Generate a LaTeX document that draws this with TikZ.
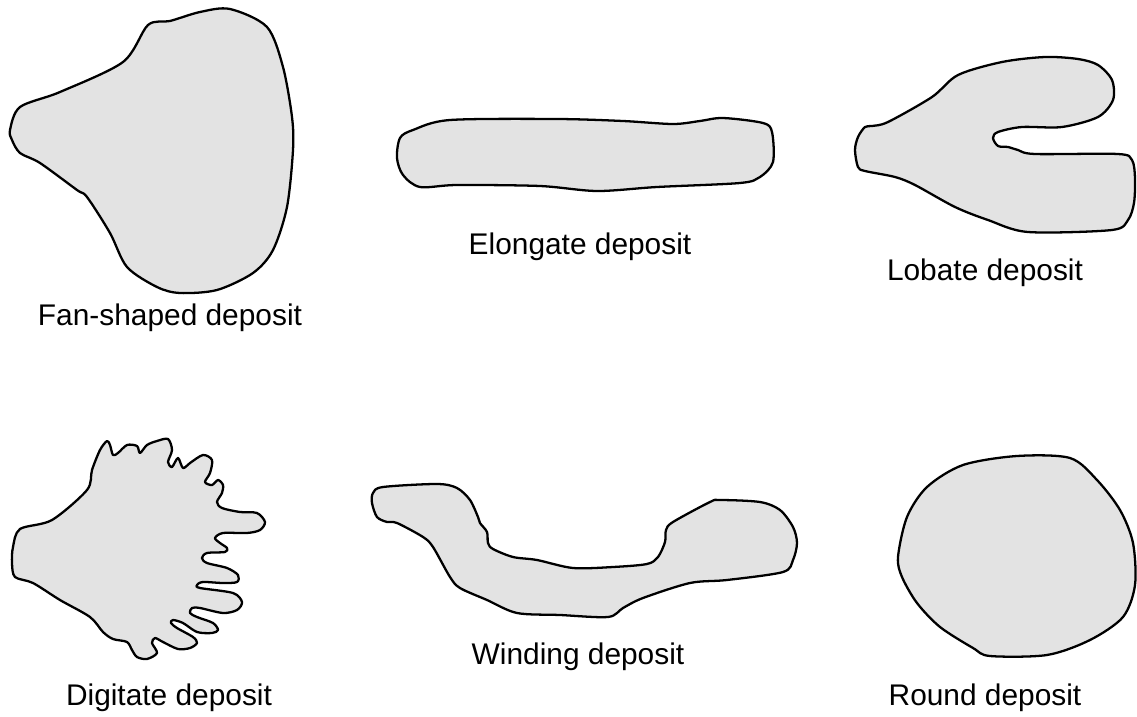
\documentclass[tikz,border=0pt]{standalone}
\usepackage{fontspec}
\setmainfont{Liberation Sans}
\definecolor{depgray}{HTML}{E3E3E3}

\begin{document}
\begin{tikzpicture}[x=0.02cm, y=-0.02cm,
    every node/.style={font=\fontsize{17}{20}\selectfont},
    deposit/.style={draw=black, line width=1.3pt, fill=depgray, line join=round}]
  \useasboundingbox (0,0) rectangle (1137,717);
  % top row
  \draw[deposit] plot[smooth cycle, tension=0.5] coordinates {
    (10,130) (20,107) (60,92) (123,62) (148,25) (170,21) (200,12) (230,9)
    (267,27) (283,67) (292,117) (293,150) (287,207) (273,250) (253,273)
    (217,290) (180,293) (157,287) (127,267) (110,233) (87,197) (77,190)
    (40,163) (20,153) (12,140)};
  \node (fan) at (170,318) {Fan-shaped deposit};

  \draw[deposit] plot[smooth cycle, tension=0.5] coordinates {
    (400,138) (413,130) (450,120) (557,119) (623,121) (673,124) (700,121)
    (723,118) (763,123) (772,132) (773,162) (760,177) (740,183) (657,187)
    (597,191) (540,186) (457,185) (420,187) (403,175) (397,158)};
  \node (elong) at (580,247) {Elongate deposit};

  \draw[deposit] plot[smooth cycle, tension=0.5] coordinates {
    (865,127) (858,137) (855,150) (858,167) (865,171) (895,177) (915,185)
    (955,207) (988,220) (1028,232) (1112,230) (1128,220) (1134,203)
    (1135,178) (1132,160) (1118,154) (1035,154) (1018,150) (1008,147)
    (998,146) (993,138) (998,132) (1022,127) (1062,127) (1098,117)
    (1113,100) (1112,80) (1098,65) (1078,59) (1045,57) (1002,62) (958,75)
    (932,97) (888,122) (872,126)};
  \node (lobe) at (985,273) {Lobate deposit};

  % bottom row
  \draw[deposit] plot[smooth cycle, tension=0.5] coordinates {
    (20,529) (52,520) (87,490) (92,470) (100,450) (107,441) (110,445)
    (113,455) (118,453) (127,445) (137,446) (140,453) (147,445) (157,441)
    (168,439) (172,450) (168,462) (172,467) (178,458) (183,468) (190,463)
    (203,455) (212,460) (210,473) (205,482) (212,485) (218,480) (223,485)
    (222,493) (217,502) (222,508) (240,512) (257,513) (265,522) (260,530)
    (247,533) (223,533) (215,538) (220,543) (227,548) (225,552) (207,553)
    (202,558) (207,563) (227,568) (238,575) (237,582) (223,583) (203,582)
    (197,585) (200,588) (233,593) (242,602) (237,610) (223,613) (200,608)
    (192,608) (190,613) (197,617) (213,623) (218,630) (212,633) (197,632)
    (183,623) (173,620) (171,623) (177,628) (193,637) (197,643) (190,648)
    (178,649) (163,642) (155,638) (152,643) (157,653) (147,659) (137,657)
    (132,650) (127,642) (113,639) (103,632) (90,617) (60,600) (33,583)
    (15,577) (12,563) (13,547)};
  \node (digit) at (169,698) {Digitate deposit};

  \draw[deposit] plot[smooth cycle, tension=0.5] coordinates {
    (373,493) (383,487) (437,484) (457,488) (470,500) (478,517) (480,523)
    (487,532) (488,543) (493,549) (513,557) (537,560) (573,568) (613,567)
    (647,564) (658,557) (665,542) (666,530) (673,522) (710,502) (720,500)
    (760,502) (780,510) (793,527) (797,543) (793,560) (783,572) (727,580)
    (690,583) (643,598) (623,608) (608,617) (560,615) (517,613) (487,600)
    (460,588) (450,577) (433,547) (423,537) (397,523) (387,522) (377,517)
    (372,503)};
  \node (wind) at (578,657) {Winding deposit};

  \draw[deposit] plot[smooth cycle, tension=0.5] coordinates {
    (898,557) (907,517) (927,487) (963,465) (1017,456) (1070,458)
    (1097,480) (1120,510) (1133,543) (1135,585) (1123,617) (1090,640)
    (1047,655) (990,656) (973,648) (940,627) (917,603) (902,577)};
  \node (round) at (985,698) {Round deposit};
\end{tikzpicture}
\end{document}
